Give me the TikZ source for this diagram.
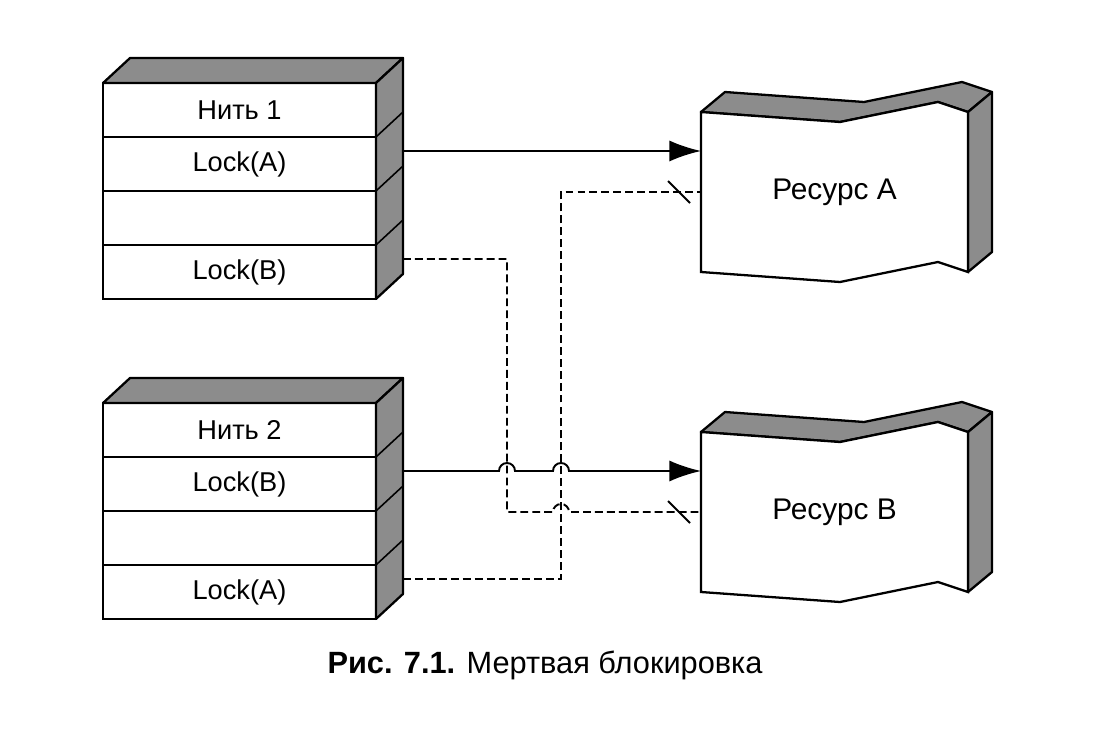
\documentclass[tikz,border=0pt]{standalone}
\usepackage{fontspec}
\setmainfont{Liberation Sans}
\usetikzlibrary{arrows.meta,positioning,calc}
\tikzstyle{arrow} = [line width=1.1pt,-{Latex[length=18pt,width=12pt]}]
\tikzstyle{waitline} = [line width=1.1pt,dash pattern=on 4.5pt off 2.3pt]
\tikzstyle{slash} = [line width=1.1pt]
\tikzstyle{row} = [draw,line width=1.3pt,fill=white,outer sep=0pt,minimum width=5.46cm,minimum height=1.08cm,font=\fontsize{15.5}{18}\selectfont]
\tikzstyle{face} = [draw,line width=1.3pt,fill=black!45,line join=round]
\tikzstyle{resource} = [inner sep=0pt,outer sep=0pt,minimum width=5.34cm,minimum height=3.2cm,font=\fontsize{17}{20}\selectfont]

\begin{document}
\begin{tikzpicture}[x=0.02cm,y=-0.02cm]
\useasboundingbox (0,0) rectangle (1102,740);

% threads
\foreach \t/\y/\p/\q in {1/0/A/B,2/320/B/A}{
    \node[row] (thread\t) at (239.5,110+\y) {Нить \t};
    \node[row,below=0pt of thread\t] (t\t-first) {Lock(\p)};
    \node[row,below=0pt of t\t-first] (t\t-gap) {};
    \node[row,below=0pt of t\t-gap] (t\t-second) {Lock(\q)};
    \draw[face] (thread\t.north west) -- ++(27,-25) -- ++(273,0) -- (thread\t.north east) -- cycle;
    \draw[face] (thread\t.north east) -- ++(27,-25) -- ($(t\t-second.south east)+(27,-25)$) -- (t\t-second.south east) -- cycle;
    \foreach \r in {thread\t,t\t-first,t\t-gap}
        \draw[line width=0.9pt] (\r.south east) -- ++(27,-25);
    \coordinate (t\t-out1) at ([xshift=0.54cm,yshift=0.26cm]t\t-first.east);
    \coordinate (t\t-out2) at ([xshift=0.54cm,yshift=0.26cm]t\t-second.east);
}

% resources
\foreach \r/\y in {A/0,B/320}{
    \begin{scope}[shift={(701,112+\y)}]
        \draw[face] (0,0) -- (139,10) -- (237,-10) -- (267,0) -- (291,-20) -- (261,-30) -- (163,-10) -- (24,-20) -- cycle;
        \draw[face] (267,0) -- (291,-20) -- (291,140) -- (267,160) -- cycle;
        \draw[line width=1.3pt,fill=white] (0,0) -- (139,10) -- (237,-10) -- (267,0) -- (267,160) -- (237,150) -- (139,170) -- (0,160) -- cycle;
    \end{scope}
    \node[resource] (res\r) at (834.5,192+\y) {Ресурс \r};
}

\coordinate (lane1) at (507,0);
\coordinate (lane2) at (561,0);

% locks held
\draw[arrow] (t1-out1) -- (t1-out1 -| resA.west);
\draw[arrow] (t2-out1) -- ($(t2-out1 -| lane1)+(-8,0)$) arc[start angle=180,end angle=0,radius=0.16cm]
    -- ($(t2-out1 -| lane2)+(-8,0)$) arc[start angle=180,end angle=0,radius=0.16cm] -- (t2-out1 -| resB.west);

% locks waited for
\draw[waitline] (t1-out2) -- (t1-out2 -| lane1) -- (lane1 |- resB.west)
    -- ($(lane2 |- resB.west)+(-8,0)$) arc[start angle=180,end angle=0,radius=0.16cm] -- (resB.west);
\draw[waitline] (t2-out2) -- (t2-out2 -| lane2) -- (lane2 |- resA.west) -- (resA.west);
\foreach \r in {A,B}
    \draw[slash] ($(res\r.west)+(-33,-11)$) -- ($(res\r.west)+(-11,11)$);

\node[font=\fontsize{17.5}{21}\selectfont] (caption) at (545,665) {\textbf{Рис. 7.1.} Мертвая блокировка};
\end{tikzpicture}
\end{document}
